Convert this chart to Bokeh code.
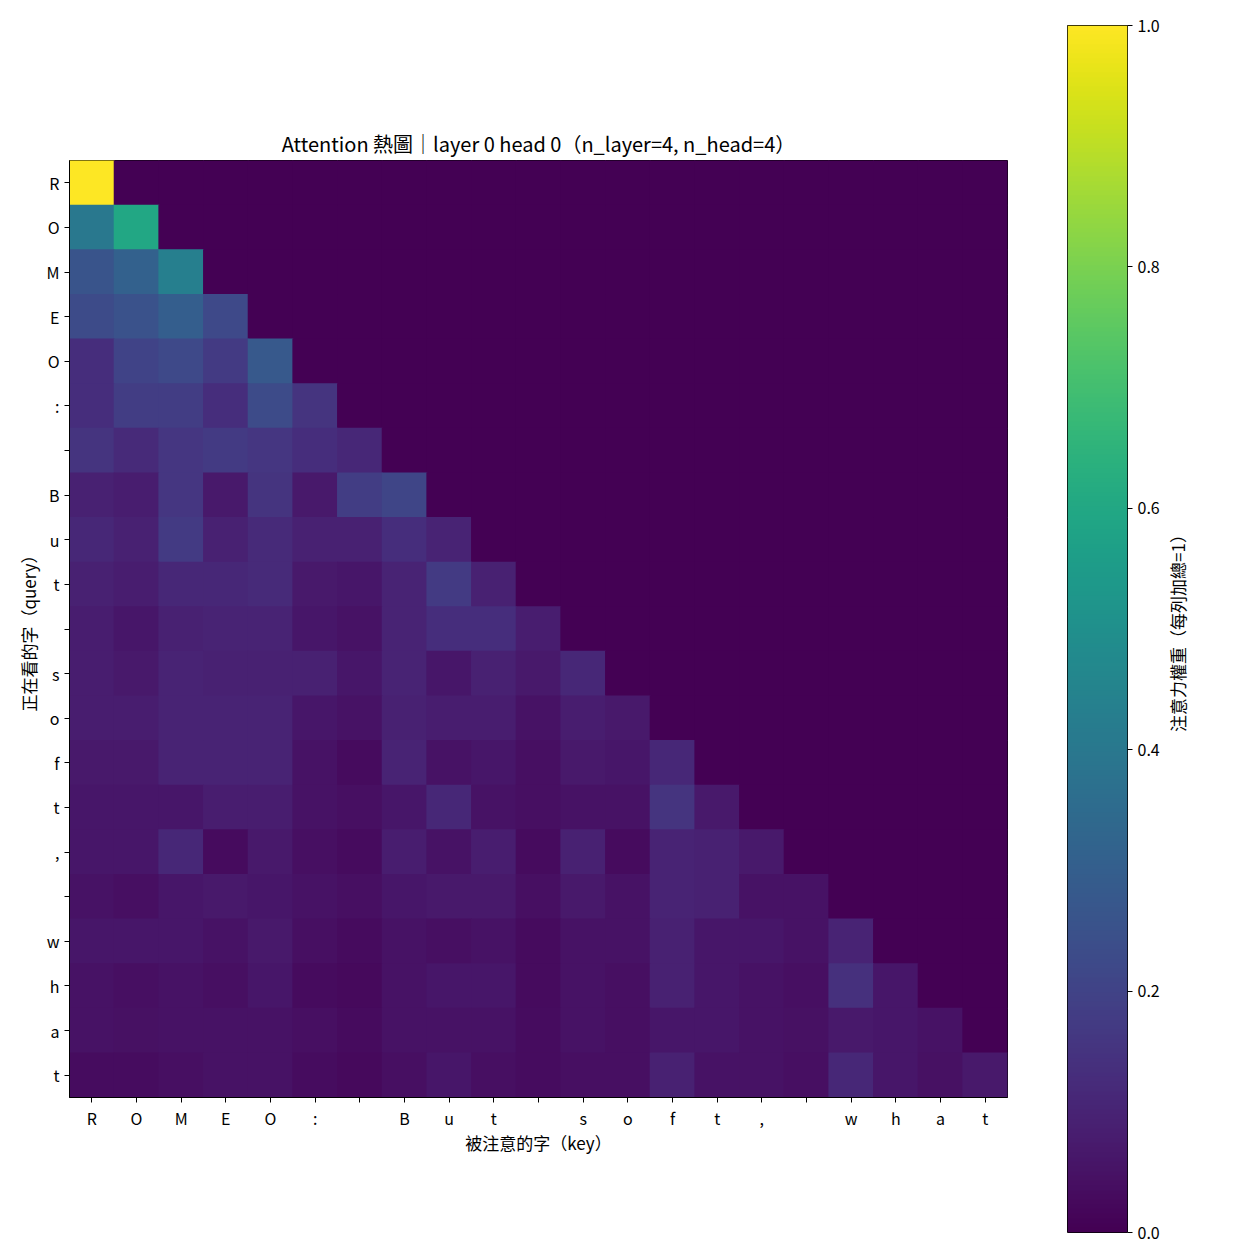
import numpy as np
from bokeh.plotting import figure
from bokeh.models import ColumnDataSource, FixedTicker, Range1d, LinearColorMapper, Label
from bokeh.layouts import row
from bokeh.palettes import Viridis256
from bokeh.transform import linear_cmap
from bokeh.embed import file_html
from bokeh.resources import INLINE

# tokens of "ROMEO:\nBut soft, what"
tokens = ["R", "O", "M", "E", "O", ":", "\n", "B", "u", "t", " ",
          "s", "o", "f", "t", ",", " ", "w", "h", "a", "t"]

# attention weights, one list per query row (causal: keys 0..i)
weights = [
    [1.00],
    [0.40, 0.60],
    [0.26, 0.31, 0.43],
    [0.23, 0.25, 0.30, 0.22],
    [0.13, 0.20, 0.22, 0.17, 0.28],
    [0.13, 0.18, 0.18, 0.13, 0.23, 0.15],
    [0.15, 0.12, 0.16, 0.17, 0.16, 0.13, 0.11],
    [0.09, 0.08, 0.16, 0.07, 0.15, 0.07, 0.18, 0.21],
    [0.11, 0.09, 0.17, 0.09, 0.12, 0.09, 0.09, 0.13, 0.10],
    [0.09, 0.08, 0.11, 0.11, 0.12, 0.07, 0.06, 0.10, 0.17, 0.09],
    [0.08, 0.06, 0.09, 0.10, 0.10, 0.06, 0.05, 0.10, 0.13, 0.13, 0.08],
    [0.08, 0.07, 0.10, 0.09, 0.09, 0.09, 0.06, 0.10, 0.06, 0.09, 0.07, 0.11],
    [0.08, 0.08, 0.10, 0.10, 0.10, 0.06, 0.05, 0.09, 0.08, 0.08, 0.05, 0.08, 0.07],
    [0.07, 0.07, 0.10, 0.10, 0.10, 0.05, 0.03, 0.10, 0.05, 0.06, 0.04, 0.07, 0.06, 0.11],
    [0.06, 0.06, 0.06, 0.08, 0.08, 0.05, 0.04, 0.06, 0.11, 0.05, 0.04, 0.05, 0.05, 0.15, 0.07],
    [0.06, 0.06, 0.11, 0.03, 0.07, 0.04, 0.03, 0.08, 0.05, 0.08, 0.03, 0.09, 0.03, 0.10, 0.09, 0.07],
    [0.05, 0.04, 0.06, 0.07, 0.06, 0.05, 0.04, 0.06, 0.07, 0.07, 0.04, 0.07, 0.05, 0.10, 0.09, 0.05, 0.05],
    [0.06, 0.06, 0.06, 0.05, 0.07, 0.04, 0.03, 0.05, 0.04, 0.05, 0.03, 0.05, 0.05, 0.09, 0.06, 0.06, 0.05, 0.10],
    [0.05, 0.04, 0.05, 0.04, 0.06, 0.03, 0.025, 0.05, 0.06, 0.06, 0.03, 0.05, 0.04, 0.09, 0.06, 0.05, 0.04, 0.14, 0.06],
    [0.05, 0.045, 0.05, 0.05, 0.05, 0.04, 0.03, 0.05, 0.05, 0.05, 0.035, 0.05, 0.04, 0.06, 0.06, 0.05, 0.045, 0.07, 0.06, 0.05],
    [0.035, 0.035, 0.04, 0.05, 0.05, 0.035, 0.025, 0.04, 0.06, 0.04, 0.035, 0.04, 0.04, 0.09, 0.05, 0.05, 0.04, 0.11, 0.06, 0.045, 0.07],
]

cbar_ticks = [0.0, 0.2, 0.4, 0.6, 0.8, 1.0]

FONT = "Noto Sans CJK TC"
n = len(tokens)
labels = {i: ("" if t == "\n" else t) for i, t in enumerate(tokens)}

xs, ys, ws = [], [], []
for i in range(n):
    for j in range(n):
        xs.append(j)
        ys.append(i)
        ws.append(weights[i][j] if j < len(weights[i]) else 0.0)
src = ColumnDataSource(data=dict(x=xs, y=ys, w=ws))

p = figure(frame_width=938, frame_height=937,
           min_border_left=69, min_border_right=41, min_border_top=160, min_border_bottom=155,
           x_range=Range1d(-0.5, n - 0.5), y_range=Range1d(n - 0.5, -0.5),
           toolbar_location=None, output_backend="svg",
           title="Attention 熱圖｜layer 0 head 0（n_layer=4, n_head=4）")
p.frame_align = False

cmap = linear_cmap("w", Viridis256, 0, 1)
# slightly oversized cells so no seams show between neighbours
p.rect(x="x", y="y", width=1.02, height=1.02, source=src,
       fill_color=cmap, line_color=None)

p.title.align = "center"
p.title.text_font = FONT
p.title.text_font_size = "20px"
p.title.text_font_style = "normal"
p.title.text_color = "black"
p.title.standoff = 6

for ax in (p.xaxis[0], p.yaxis[0]):
    ax.ticker = FixedTicker(ticks=list(range(n)))
    ax.major_label_overrides = labels
    ax.major_label_text_font = FONT
    ax.major_label_text_font_size = "16px"
    ax.major_label_text_color = "black"
    ax.axis_label_text_font = FONT
    ax.axis_label_text_font_size = "17px"
    ax.axis_label_text_font_style = "normal"
    ax.axis_label_text_color = "black"
    ax.major_tick_in = 0
    ax.major_tick_out = 5
    ax.minor_tick_line_color = None
    ax.axis_line_color = "black"
    ax.major_tick_line_color = "black"

p.xaxis.major_label_standoff = 3
p.xaxis.axis_label_standoff = -3
p.yaxis.major_label_standoff = 5
p.yaxis.axis_label_standoff = 3

p.xaxis.axis_label = "被注意的字（key）"
p.yaxis.axis_label = "正在看的字（query）"
p.grid.visible = False
p.outline_line_color = "black"
p.background_fill_color = "white"

# colour bar as its own narrow figure
mapper = LinearColorMapper(palette=Viridis256, low=0, high=1)
cb = figure(frame_width=60, frame_height=1207,
            min_border_left=19, min_border_right=40, min_border_top=25, min_border_bottom=20,
            x_range=Range1d(0, 1), y_range=Range1d(0, 1),
            x_axis_location=None, y_axis_location="right",
            toolbar_location=None, output_backend="svg")
cb.frame_align = False
cb.image(image=[np.linspace(0, 1, 256).reshape(256, 1)], x=0, y=0, dw=1, dh=1,
         color_mapper=mapper)
cb.grid.visible = False
cb.outline_line_color = "black"
cax = cb.yaxis[0]
cax.ticker = FixedTicker(ticks=cbar_ticks)
cax.major_label_overrides = {t: "%.1f" % t for t in cbar_ticks}
cax.major_label_text_font = FONT
cax.major_label_text_font_size = "16px"
cax.major_label_text_color = "black"
cax.major_tick_in = 0
cax.major_tick_out = 5
cax.minor_tick_line_color = None
cax.axis_line_color = None

# colour bar title, in a strip of its own so it reads bottom to top, centred
lf = figure(frame_width=40, frame_height=1207,
            min_border_left=0, min_border_right=0, min_border_top=25, min_border_bottom=20,
            x_range=Range1d(0, 1), y_range=Range1d(0, 1),
            x_axis_location=None, y_axis_location=None,
            toolbar_location=None, output_backend="svg")
lf.frame_align = False
lf.grid.visible = False
lf.outline_line_color = None
lf.add_layout(Label(x=0.25, y=0.5, text="注意力權重（每列加總=1）", angle=90, angle_units="deg",
                    text_align="center", text_baseline="middle", text_font=FONT,
                    text_font_size="17px", text_color="black"))

layout = row(p, cb, lf)
open("out.html", "w").write(file_html(layout, INLINE))
